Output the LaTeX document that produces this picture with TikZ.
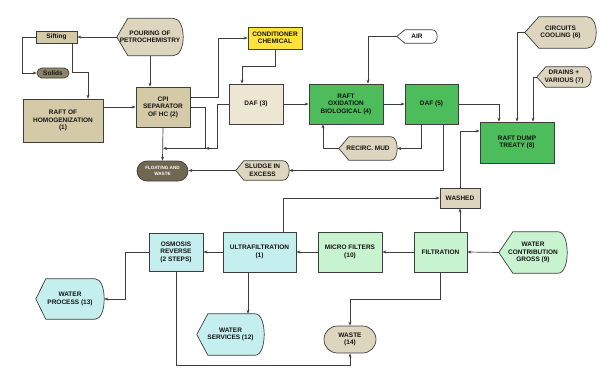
\documentclass[tikz,border=0pt]{standalone}
\usepackage{fontspec}
\usepackage{tikz}
\usetikzlibrary{arrows.meta, positioning, shapes.misc, backgrounds, calc}
\newfontfamily\diagfont{Liberation Sans}
\newcommand{\lbl}{\diagfont\bfseries\fontsize{6.5}{7.5}\selectfont}
\newcommand{\tinylbl}{\diagfont\bfseries\fontsize{4.6}{5.6}\selectfont}
\definecolor{edge}{HTML}{3E3E3E}
\definecolor{txt}{HTML}{141414}
\definecolor{tanD}{HTML}{D4CAA8}
\definecolor{tanL}{HTML}{ECE6D2}
\definecolor{beige}{HTML}{DDD5BE}
\definecolor{solidsC}{HTML}{8E846C}
\definecolor{floatC}{HTML}{6F6752}
\definecolor{yel}{HTML}{FFE33B}
\definecolor{grn}{HTML}{4DBD5B}
\definecolor{lgrn}{HTML}{C8F3CF}
\definecolor{cyanL}{HTML}{C5EFEF}

\begin{document}
\begin{tikzpicture}[
  x=1pt, y=-1pt,
  font=\lbl, text=txt,
  box/.style={draw=edge, line width=0.7pt, align=center, inner sep=1pt},
  disp/.style={align=center, inner sep=0pt},
  term/.style={rounded rectangle, draw=edge, line width=0.7pt, align=center, inner sep=1pt},
  arr/.style={-{Stealth[length=4pt, width=3pt]}, line width=0.7pt, draw=edge}
]
\useasboundingbox (0,0) rectangle (611,380);

% top-left: pre-treatment
\node[box, fill=tanD, minimum width=41, minimum height=12] (sift) at (56.5,37) {Sifting};
\node[disp, minimum width=66, minimum height=37] (pour) at (150,37) {POURING OF\\PETROCHEMISTRY};
\node[term, fill=solidsC, minimum width=34, minimum height=10] (solids) at (53,73) {Solids};
\node[box, fill=tanD, minimum width=80, minimum height=43] (homog) at (63,120.5) {RAFT OF\\HOMOGENIZATION\\(1)};
\node[box, fill=tanD, minimum width=54, minimum height=40] (cpi) at (163,107) {CPI\\SEPARATOR\\OF HC (2)};
\node[box, fill=yel, minimum width=54, minimum height=22] (cond) at (275,38) {CONDITIONER\\CHEMICAL};
\node[box, fill=tanL, minimum width=54, minimum height=40] (daf3) at (256,104) {DAF (3)};
\node[term, fill=floatC, text=white, font=\tinylbl, minimum width=53, minimum height=20] (float) at (162.5,171) {FLOATING AND\\WASTE};
\node[disp, minimum width=53, minimum height=19] (sludge) at (262.5,170.5) {SLUDGE IN\\EXCESS};

% biological line
\node[disp, minimum width=40, minimum height=13] (air) at (417,36.5) {AIR};
\node[box, fill=grn, minimum width=74, minimum height=40] (ox) at (346,104) {RAFT\\OXIDATION\\BIOLOGICAL (4)};
\node[box, fill=grn, minimum width=53, minimum height=40] (daf5) at (431.5,104) {DAF (5)};
\node[disp, minimum width=58, minimum height=23] (recirc) at (368,148.5) {RECIRC. MUD};
\node[disp, minimum width=71, minimum height=31] (circ) at (560.5,32.5) {CIRCUITS\\COOLING (6)};
\node[disp, minimum width=54, minimum height=20] (drains) at (564,77) {DRAINS +\\VARIOUS (7)};
\node[box, fill=grn, minimum width=74, minimum height=41] (dump) at (517,142.5) {RAFT DUMP\\TREATY (8)};

% water line
\node[box, fill=beige, minimum width=40, minimum height=20] (washed) at (460,198) {WASHED};
\node[box, fill=cyanL, minimum width=54, minimum height=38] (osmo) at (176,252) {OSMOSIS\\REVERSE\\(2 STEPS)};
\node[box, fill=cyanL, minimum width=73, minimum height=40] (ultra) at (259.5,252) {ULTRAFILTRATION\\(1)};
\node[box, fill=lgrn, minimum width=64, minimum height=40] (micro) at (350,252) {MICRO FILTERS\\(10)};
\node[box, fill=lgrn, minimum width=53, minimum height=40] (filt) at (440.5,252) {FILTRATION};
\node[disp, minimum width=68, minimum height=41] (contrib) at (533,252.5) {WATER\\CONTRIBUTION\\GROSS (9)};
\node[disp, minimum width=68, minimum height=40] (wproc) at (70,299) {WATER\\PROCESS (13)};
\node[disp, minimum width=67, minimum height=41] (wserv) at (230.5,334.5) {WATER\\SERVICES (12)};
\node[term, fill=beige, minimum width=54, minimum height=27] (waste) at (350,339.5) {WASTE\\(14)};

% display outlines behind the texts
\begin{scope}[on background layer]
\foreach \n/\c/\t/\r in {pour/beige/11/10, sludge/beige/8/6, air/white/8/5, recirc/beige/10/6,
    circ/beige/14/9, drains/beige/9/6, contrib/lgrn/14/9, wproc/cyanL/10/9, wserv/cyanL/11/9}
  \path[draw=edge, line width=0.7pt, fill=\c] (\n.west) -- ([xshift=\t]\n.north west)
    -- ([xshift=-\r]\n.north east) .. controls ([xshift=\r/3]\n.north east) and ([xshift=\r/3]\n.south east) .. ([xshift=-\r]\n.south east)
    -- ([xshift=\t]\n.south west) -- cycle;
\end{scope}

% connectors
\draw[arr] (pour.west) -- (sift.east);
\draw[arr] (sift.west) -- ++(-13,0) |- (solids.west);
\draw[arr] ([xshift=15.5]sift.south) -- ++(0,29) -| ([xshift=25]homog.north);
\draw[arr] (pour.south) -- (pour.south |- cpi.north);
\draw[arr] (cpi.west -| homog.east) -- (cpi.west);
\draw[arr] ([yshift=10]cpi.east) -- ++(28,0) |- (cond.west);
\draw[arr] (cond.south) -- ++(0,17) -| ([xshift=-14]daf3.north);
\draw[arr] (cpi.south) -- (float.north);
\draw[arr] (cpi.east) -- ++(15,0) |- ([yshift=-21]cpi.south);
\draw[arr] (daf3.west) -- ++(-11,0) |- ([xshift=15,yshift=-21]cpi.south east);
\draw[arr] ([xshift=12]daf5.south) |- (sludge.east);
\draw[arr] (sludge.west) -- (sludge.west -| float.east);
\draw[arr] (daf3.east) -- (ox.west);
\draw[arr] (air.west) -| ([xshift=22]ox.north);
\draw[arr] (ox.east) -- (daf5.west);
\draw[arr] ([xshift=-10]daf5.south) |- (recirc.east);
\draw[arr] (recirc.west) -| ([xshift=-23]ox.south);
\draw[arr] (daf5.east) -| ([xshift=-18]dump.north);
\draw[arr] (circ.west) -| (dump.north);
\draw[arr] (drains.west) -| ([xshift=16]dump.north);
\draw[arr] (washed.north) |- ([yshift=11.5]dump.west);
\draw[arr] ([xshift=23.5]ultra.north) |- (washed.west);
\draw[arr] (washed.south |- filt.north) -- (washed.south);
\draw[arr] (contrib.west) -- (filt.east);
\draw[arr] (filt.west) -- (micro.east);
\draw[arr] (micro.west) -- (ultra.east);
\draw[arr] (ultra.west) -- (osmo.east);
\draw[arr] (osmo.west) -- ++(-23,0) |- (wproc.east);
\draw[arr] ([xshift=-11.5]ultra.south) -- ([xshift=-11.5]ultra.south |- wserv.north);
\draw[arr] (osmo.south) -- ++(0,94) -| (waste.south);
\draw[arr] (filt.south) -- ++(0,27) -| (waste.north);
\end{tikzpicture}
\end{document}
